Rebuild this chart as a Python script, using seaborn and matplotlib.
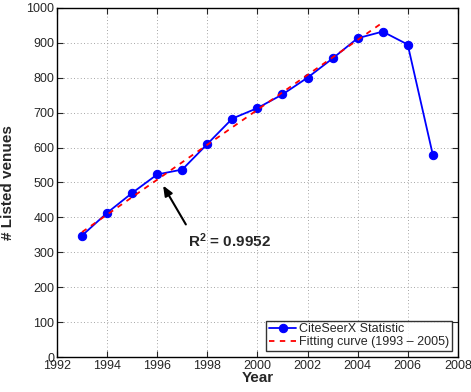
import matplotlib
matplotlib.use("Agg")
import matplotlib.pyplot as plt
import seaborn as sns
import pandas as pd

years = [1993, 1994, 1995, 1996, 1997, 1998, 1999, 2000, 2001, 2002, 2003, 2004, 2005, 2006, 2007]
venues = [348, 413, 470, 523, 537, 610, 683, 713, 752, 800, 855, 913, 932, 895, 580]
fit_years = [1993, 2005]
fit_values = [358, 958]
x_ticks = list(range(1992, 2009, 2))
y_ticks = list(range(0, 1001, 100))

sns.set_style("ticks")
plt.rcParams['font.family'] = ['Liberation Sans', 'DejaVu Sans']
plt.rcParams['mathtext.fontset'] = 'custom'
plt.rcParams['mathtext.rm'] = 'Liberation Sans'
plt.rcParams['mathtext.bf'] = 'Liberation Sans:bold'

fig = plt.figure(figsize=(4.71, 3.92), dpi=100)
ax = fig.add_axes([0.121, 0.089, 0.851, 0.891])

df = pd.DataFrame({"Year": years, "Venues": venues})
dfit = pd.DataFrame({"Year": fit_years, "Fit": fit_values})

sns.lineplot(data=df, x="Year", y="Venues", ax=ax, color="#0000ff", marker="o",
             markersize=6, markeredgecolor="#0000ff", linewidth=1.3,
             label="CiteSeerX Statistic")
sns.lineplot(data=dfit, x="Year", y="Fit", ax=ax, color="#ff0000", linestyle=(0, (3, 3)),
             linewidth=1.3, label="Fitting curve (1993 \u2013 2005)")

ax.set_xlim(1992, 2008)
ax.set_ylim(0, 1000)
ax.set_xticks(x_ticks)
ax.set_yticks(y_ticks)
ax.tick_params(direction="in", length=4, labelsize=9, width=0.8, top=True, right=True,
               labeltop=False, labelright=False, pad=2)
ax.grid(True, linestyle=(0, (1, 3)), color="#888888", linewidth=0.6)
for s in ax.spines.values():
    s.set_linewidth(1.0)
    s.set_color("black")

ax.set_xlabel("Year", fontsize=11, fontweight="bold", labelpad=-1)
ax.set_ylabel("# Listed venues", fontsize=11, fontweight="bold", labelpad=8)

ax.annotate("", xy=(1996.18, 498), xytext=(1997.2, 373),
            arrowprops=dict(arrowstyle="-|>,head_length=0.6,head_width=0.25",
                            color="black", lw=1.5))
ax.text(1997.23, 316, r"$\mathbf{R^2}$ = 0.9952", fontsize=11, fontweight="bold",
        ha="left", va="baseline")

leg = ax.legend(loc="lower right", fontsize=9, frameon=True, fancybox=False,
                edgecolor="black", borderaxespad=0.5, handlelength=2.2,
                borderpad=0.2, labelspacing=0.1, handletextpad=0.2)
leg.get_frame().set_linewidth(1.0)

fig.savefig("out.png", dpi=100)
